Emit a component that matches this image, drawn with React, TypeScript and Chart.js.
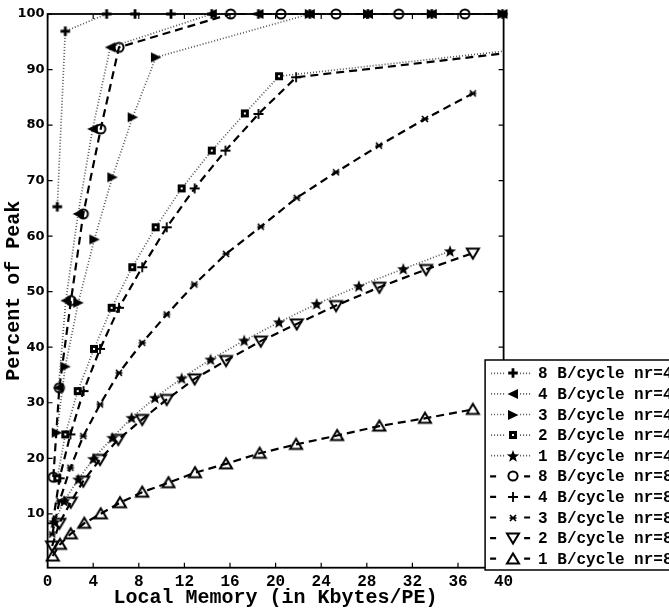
import React, { useEffect, useRef } from 'react';
import { Chart, registerables } from 'chart.js';

Chart.register(...registerables);

// ---- data ----
const xTicks = [0, 4, 8, 12, 16, 20, 24, 28, 32, 36, 40];
const yTicks = [10, 20, 30, 40, 50, 60, 70, 80, 90, 100];

const seriesLabels = [
  '8 B/cycle nr=4',
  '4 B/cycle nr=4',
  '3 B/cycle nr=4',
  '2 B/cycle nr=4',
  '1 B/cycle nr=4',
  '8 B/cycle nr=8',
  '4 B/cycle nr=8',
  '3 B/cycle nr=8',
  '2 B/cycle nr=8',
  '1 B/cycle nr=8',
];

const s1x = [0.85, 1.55, 5.18, 7.67, 10.82, 14.4, 18.5, 23.0, 28.1, 33.7, 39.9];
const s1y = [65.3, 96.9, 100, 100, 100, 100, 100, 100, 100, 100, 100];

const s2x = [0.95, 1.6, 2.67, 3.95, 5.5, 14.4, 18.5, 23.0, 28.1, 33.7, 39.9];
const s2y = [32.7, 48.4, 64.0, 79.3, 94.0, 100, 100, 100, 100, 100, 100];

const s3x = [0.8, 1.55, 2.69, 4.1, 5.68, 7.46, 9.5, 23.0, 28.1, 33.7, 39.9];
const s3y = [24.6, 36.5, 48.0, 59.4, 70.6, 81.4, 92.2, 100, 100, 100, 100];

const s4x = [0.85, 1.55, 2.64, 4.07, 5.62, 7.43, 9.48, 11.76, 14.4, 17.3, 20.3];
const s4y = [16.4, 24.3, 32.1, 39.7, 47.1, 54.4, 61.6, 68.6, 75.4, 82.1, 88.8];
const s4TailX = 40;
const s4TailY = 93.3;

const s5x = [0.6, 1.45, 2.69, 4.0, 5.68, 7.37, 9.42, 11.76, 14.3, 17.25, 20.3, 23.6, 27.3, 31.2, 35.3];
const s5y = [8.5, 12.3, 16.2, 19.9, 23.7, 27.3, 30.9, 34.4, 37.8, 41.2, 44.5, 47.8, 51.0, 54.1, 57.3];

const s6x = [0.5, 1.03, 2.05, 3.13, 4.66, 6.26, 16.06, 20.47, 25.3, 30.8, 36.6];
const s6y = [16.6, 32.7, 48.4, 64.0, 79.3, 94.0, 100, 100, 100, 100, 100];
const s6TailX = 40;
const s6TailY = 100;

const s7x = [0.45, 1.05, 2.0, 3.15, 4.6, 6.26, 8.3, 10.45, 12.9, 15.6, 18.5, 21.8];
const s7y = [8.3, 16.4, 24.3, 32.1, 39.7, 47.1, 54.4, 61.6, 68.6, 75.4, 82.0, 88.6];
const s7TailX = 40;
const s7TailY = 92.9;

const s8x = [0.4, 1.05, 2.0, 3.13, 4.6, 6.26, 8.3, 10.45, 12.87, 15.65, 18.7, 21.85, 25.3, 29.07, 33.1, 37.3];
const s8y = [6.3, 12.3, 18.3, 24.0, 29.7, 35.4, 40.8, 45.9, 51.3, 56.8, 61.7, 66.9, 71.5, 76.3, 81.1, 85.7];

const s9x = [0.4, 1.03, 2.03, 3.13, 4.6, 6.2, 8.3, 10.45, 12.9, 15.65, 18.7, 21.85, 25.3, 29.1, 33.2, 37.3];
const s9y = [4.2, 8.3, 12.1, 15.9, 19.8, 23.4, 27.0, 30.6, 34.3, 37.6, 41.1, 44.2, 47.5, 50.8, 54.0, 56.95];

const s10x = [0.45, 1.09, 2.03, 3.22, 4.66, 6.35, 8.3, 10.6, 12.93, 15.65, 18.6, 21.8, 25.4, 29.1, 33.1, 37.3];
const s10y = [2.4, 4.5, 6.4, 8.3, 10.0, 12.0, 13.9, 15.6, 17.4, 19.0, 20.9, 22.5, 24.1, 25.8, 27.2, 28.8];

// ---- styling ----
const markerKinds = ['plusBold', 'triLeft', 'triRight', 'square', 'star', 'circle', 'plus', 'asterisk', 'triDown', 'triUp'];
const DOTTED = [1, 2];
const DASHED = [8, 5];

function makeMarker(kind: string): HTMLCanvasElement {
  const size = 16;
  const c = document.createElement('canvas');
  c.width = size;
  c.height = size;
  const g = c.getContext('2d') as CanvasRenderingContext2D;
  g.translate(size / 2, size / 2);
  g.strokeStyle = '#000';
  g.fillStyle = '#000';
  g.lineJoin = 'miter';
  switch (kind) {
    case 'plusBold':
      g.lineWidth = 2.8;
      g.beginPath();
      g.moveTo(-4.8, 0); g.lineTo(4.8, 0);
      g.moveTo(0, -4.8); g.lineTo(0, 4.8);
      g.stroke();
      break;
    case 'triLeft':
      g.beginPath();
      g.moveTo(-5.5, 0); g.lineTo(5, -5); g.lineTo(5, 5); g.closePath();
      g.fill();
      break;
    case 'triRight':
      g.beginPath();
      g.moveTo(5.5, 0); g.lineTo(-5, -5); g.lineTo(-5, 5); g.closePath();
      g.fill();
      break;
    case 'square':
      g.fillRect(-4, -4, 8, 8);
      g.fillStyle = '#fff';
      g.fillRect(-1, -1, 2, 2);
      break;
    case 'star': {
      g.beginPath();
      for (let i = 0; i < 10; i++) {
        const r = i % 2 === 0 ? 6.5 : 2.7;
        const a = -Math.PI / 2 + (i * Math.PI) / 5;
        const px = r * Math.cos(a);
        const py = r * Math.sin(a) + 0.5;
        if (i === 0) g.moveTo(px, py); else g.lineTo(px, py);
      }
      g.closePath();
      g.fill();
      break;
    }
    case 'circle':
      g.lineWidth = 2;
      g.beginPath();
      g.arc(0, 0, 4.6, 0, Math.PI * 2);
      g.stroke();
      break;
    case 'plus':
      g.lineWidth = 1.8;
      g.beginPath();
      g.moveTo(-5, 0); g.lineTo(5, 0);
      g.moveTo(0, -5); g.lineTo(0, 5);
      g.stroke();
      break;
    case 'asterisk':
      g.lineWidth = 1.7;
      g.beginPath();
      g.moveTo(-3.5, 0); g.lineTo(3.5, 0);
      g.moveTo(-3, -3); g.lineTo(3, 3);
      g.moveTo(-3, 3); g.lineTo(3, -3);
      g.stroke();
      break;
    case 'triDown':
      g.lineWidth = 2;
      g.beginPath();
      g.moveTo(-6, -4.5); g.lineTo(6, -4.5); g.lineTo(0, 5.5); g.closePath();
      g.stroke();
      break;
    case 'triUp':
      g.lineWidth = 2;
      g.beginPath();
      g.moveTo(-6, 4.5); g.lineTo(6, 4.5); g.lineTo(0, -5.5); g.closePath();
      g.stroke();
      break;
  }
  return c;
}

function pts(xs: number[], ys: number[], tailX?: number, tailY?: number) {
  const d = xs.map((x, i) => ({ x, y: ys[i] }));
  if (tailX !== undefined && tailY !== undefined) d.push({ x: tailX, y: tailY });
  return d;
}

function radii(n: number, hasTail: boolean) {
  const r = new Array(n).fill(5);
  if (hasTail) r.push(0);
  return r;
}

const framePlugin = {
  id: 'frameTicks',
  afterDatasetsDraw(chart: any) {
    const { ctx, chartArea: a, scales } = chart;
    ctx.save();
    ctx.strokeStyle = '#000';
    ctx.lineWidth = 1.8;
    ctx.strokeRect(a.left, a.top, a.right - a.left, a.bottom - a.top);
    ctx.lineWidth = 1.2;
    const tl = 5;
    ctx.beginPath();
    for (const v of xTicks) {
      const px = scales.x.getPixelForValue(v);
      ctx.moveTo(px, a.bottom); ctx.lineTo(px, a.bottom - tl);
      ctx.moveTo(px, a.top); ctx.lineTo(px, a.top + tl);
    }
    for (const v of yTicks) {
      const py = scales.y.getPixelForValue(v);
      ctx.moveTo(a.left, py); ctx.lineTo(a.left + tl, py);
      ctx.moveTo(a.right, py); ctx.lineTo(a.right - tl, py);
    }
    ctx.stroke();
    ctx.restore();
  },
};

const legendPlugin = {
  id: 'boxLegend',
  afterDraw(chart: any) {
    const { ctx, chartArea: a } = chart;
    const left = a.right - 18.5;
    const top = 360;
    const bottom = 570;
    ctx.save();
    ctx.fillStyle = '#fff';
    ctx.fillRect(left, top, 220, bottom - top);
    ctx.strokeStyle = '#000';
    ctx.lineWidth = 1.5;
    ctx.strokeRect(left, top, 220, bottom - top);
    const rowH = 20.6;
    chart.data.datasets.forEach((ds: any, i: number) => {
      const cy = top + 13.3 + i * rowH;
      const mx = left + 28;
      ctx.strokeStyle = ds.borderColor;
      ctx.lineWidth = ds.borderWidth;
      ctx.setLineDash(ds.borderDash);
      ctx.beginPath();
      if (ds.borderDash === DOTTED) {
        ctx.moveTo(left + 6, cy); ctx.lineTo(mx - 7, cy);
        ctx.moveTo(mx + 7, cy); ctx.lineTo(mx + 17, cy);
      } else {
        ctx.moveTo(left + 5, cy); ctx.lineTo(left + 11, cy);
        ctx.moveTo(mx + 11, cy); ctx.lineTo(mx + 17, cy);
      }
      ctx.stroke();
      ctx.setLineDash([]);
      const img = ds.pointStyle as HTMLCanvasElement;
      ctx.drawImage(img, Math.round(mx - img.width / 2), Math.round(cy - img.height / 2));
      ctx.fillStyle = '#000';
      ctx.font = 'bold 16px "Liberation Mono", "Courier New", monospace';
      ctx.textAlign = 'left';
      ctx.textBaseline = 'middle';
      ctx.fillText(ds.label, left + 53, cy + 1);
    });
    ctx.restore();
  },
};

export default function App() {
  const ref = useRef<HTMLCanvasElement | null>(null);

  useEffect(() => {
    const canvas = ref.current;
    if (!canvas) return;
    const markers = markerKinds.map(makeMarker);
    const xs = [s1x, s2x, s3x, s4x, s5x, s6x, s7x, s8x, s9x, s10x];
    const ys = [s1y, s2y, s3y, s4y, s5y, s6y, s7y, s8y, s9y, s10y];
    const tails: (number[] | null)[] = [null, null, null, [s4TailX, s4TailY], null, [s6TailX, s6TailY], [s7TailX, s7TailY], null, null, null];

    const datasets = seriesLabels.map((label, i) => {
      const t = tails[i];
      const dotted = i < 5;
      return {
        label,
        data: pts(xs[i], ys[i], t ? t[0] : undefined, t ? t[1] : undefined),
        borderColor: dotted ? '#555' : '#000',
        backgroundColor: '#000',
        borderWidth: dotted ? 1.7 : 2.2,
        borderDash: dotted ? DOTTED : DASHED,
        pointStyle: markers[i],
        pointRadius: radii(xs[i].length, !!t),
        pointHoverRadius: 5,
        tension: 0,
        fill: false,
        clip: 14,
      };
    });

    const chart = new Chart(canvas, {
      type: 'line',
      data: { datasets } as any,
      options: {
        responsive: false,
        animation: false,
        devicePixelRatio: 1,
        parsing: true,
        layout: { padding: { left: 0, top: 14, right: 165.4, bottom: 0 } },
        plugins: {
          legend: { display: false },
          tooltip: { enabled: false },
        },
        scales: {
          x: {
            type: 'linear',
            min: 0,
            max: 40,
            afterBuildTicks: (s: any) => { s.ticks = xTicks.map((v) => ({ value: v })); },
            afterFit: (s: any) => { s.height = 42.3; },
            grid: { display: false, drawTicks: false },
            border: { display: false },
            ticks: {
              color: '#000',
              padding: 5,
              maxRotation: 0,
              autoSkip: false,
              font: { family: '"Liberation Mono", "Courier New", monospace', weight: 'bold', size: 16 },
            },
            title: {
              display: true,
              text: 'Local Memory (in Kbytes/PE)',
              color: '#000',
              padding: 0,
              font: { family: '"Liberation Mono", "Courier New", monospace', weight: 'bold', size: 20 },
            },
          },
          y: {
            type: 'linear',
            min: 0.3,
            max: 100,
            afterBuildTicks: (s: any) => { s.ticks = yTicks.map((v) => ({ value: v })); },
            afterFit: (s: any) => { s.width = 47.6; },
            grid: { display: false, drawTicks: false },
            border: { display: false },
            ticks: {
              color: '#000',
              padding: 3,
              font: { family: '"DejaVu Sans", sans-serif', weight: 'bold', size: 13 },
            },
            title: {
              display: true,
              text: 'Percent of Peak',
              color: '#000',
              padding: { top: 2, bottom: 0 },
              font: { family: '"Liberation Mono", "Courier New", monospace', weight: 'bold', size: 20 },
            },
          },
        },
      } as any,
      plugins: [framePlugin, legendPlugin],
    });
    return () => chart.destroy();
  }, []);

  return (
    <div style={{ position: 'fixed', left: 0, top: 0, width: 669, height: 610, background: '#fff' }}>
      <canvas ref={ref} width={669} height={610} style={{ display: 'block' }} />
    </div>
  );
}
